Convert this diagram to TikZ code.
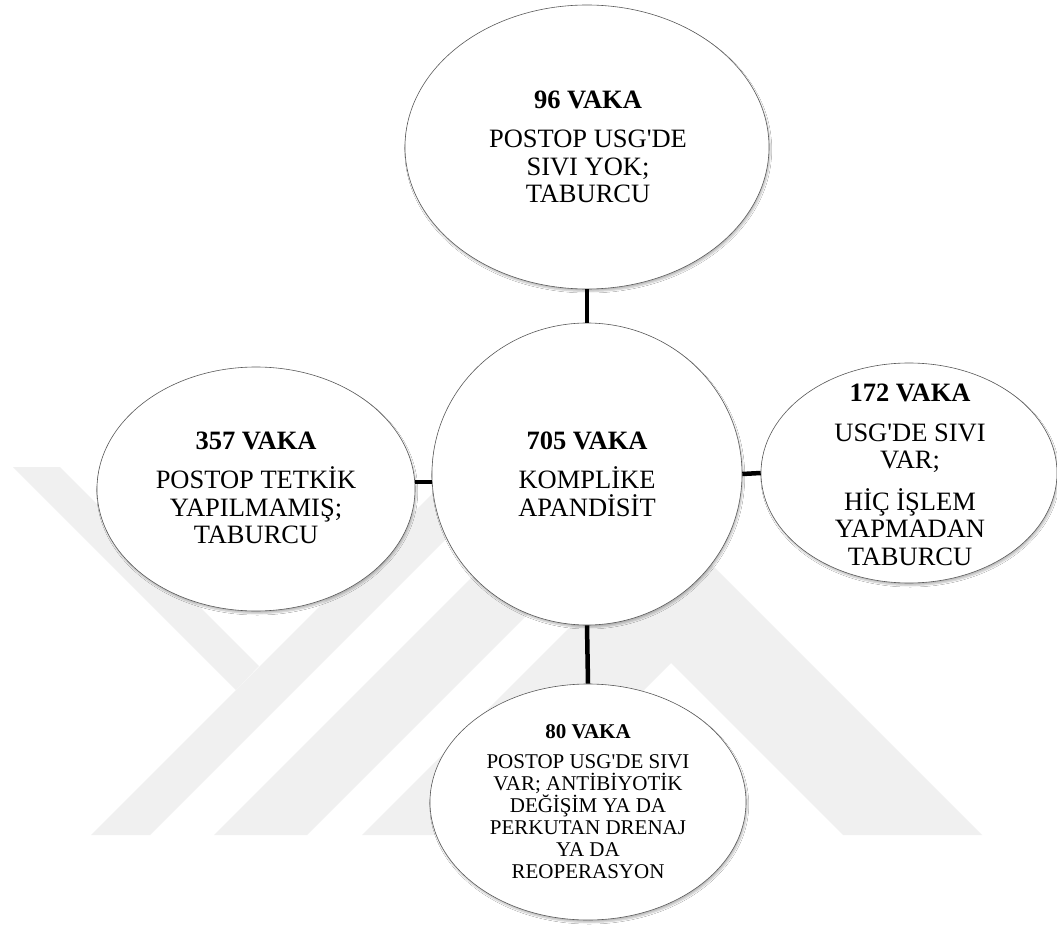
\documentclass[tikz,border=0pt]{standalone}
\usepackage{fontspec}
\setmainfont{Liberation Serif}
\usetikzlibrary{shapes.geometric,shadows.blur}
\definecolor{wm}{RGB}{240,240,240}
\newcommand{\ap}{\textquotesingle}
\begin{document}
\begin{tikzpicture}[x=1pt,y=-1pt,
  bubble/.style={ellipse,draw=black!65,line width=0.6pt,fill=white,inner sep=0pt,
     blur shadow={shadow xshift=1.2pt,shadow yshift=-2.5pt,shadow blur steps=5,shadow blur radius=1.5pt,shadow opacity=25}},
  txt/.style={align=center,inner sep=0pt,font=\fontsize{26.5}{27.5}\selectfont},
  smalltxt/.style={align=center,inner sep=0pt,font=\fontsize{21}{22}\selectfont},
  link/.style={line width=4.5pt,black}]
\useasboundingbox (0,0) rectangle (1057,925);
\fill[white] (0,0) rectangle (1057,925);
% watermark
\fill[wm] (13,467) -- (60,467) -- (259,666) -- (236,690) -- cycle;
\fill[wm] (91,835) -- (150,835) -- (518,467) -- (459,467) -- cycle;
\fill[wm] (214,835) -- (307,835) -- (675,467) -- (582,467) -- cycle;
\fill[wm] (362,835) -- (672,525) -- (982,835) -- (843,835) -- (671,663) -- (499,835) -- cycle;
% ellipses
\node[bubble,minimum width=364pt,minimum height=284pt] (top) at (587,147) {};
\node[bubble,minimum width=318pt,minimum height=244pt] (left) at (256,489) {};
\node[bubble,minimum width=296pt,minimum height=220pt] (right) at (909,473) {};
\node[bubble,minimum width=316pt,minimum height=236pt] (bottom) at (588,802) {};
\node[bubble,minimum width=310pt,minimum height=302pt] (center) at (587,474) {};
% texts
\node[txt] (ttop) at (588,147) {\textbf{96 VAKA}\\[12pt]POSTOP USG\ap DE\\SIVI YOK;\\TABURCU};
\node[txt] (tcenter) at (587,474) {\textbf{705 VAKA}\\[12pt]KOMPLİKE\\APANDİSİT};
\node[txt] (tleft) at (256,488) {\textbf{357 VAKA}\\[12pt]POSTOP TETKİK\\YAPILMAMIŞ;\\TABURCU};
\node[txt] (tright) at (910,475) {\textbf{172 VAKA}\\[12pt]USG\ap DE SIVI\\VAR;\\[14pt]HİÇ İŞLEM\\YAPMADAN\\TABURCU};
\node[smalltxt] (tbottom) at (588,802) {\textbf{80 VAKA}\\[8pt]POSTOP USG\ap DE SIVI\\VAR; ANTİBİYOTİK\\DEĞİŞİM YA DA\\PERKUTAN DRENAJ\\YA DA\\REOPERASYON};
% connectors
\coordinate (lrow) at (0,482);
\draw[link] (top.south) -- (center.north);
\draw[link] (left.east |- lrow) -- (center.west |- lrow);
\draw[link] (center.east) -- (right.west);
\draw[link] (center.south) -- (bottom.north);
\end{tikzpicture}
\end{document}
